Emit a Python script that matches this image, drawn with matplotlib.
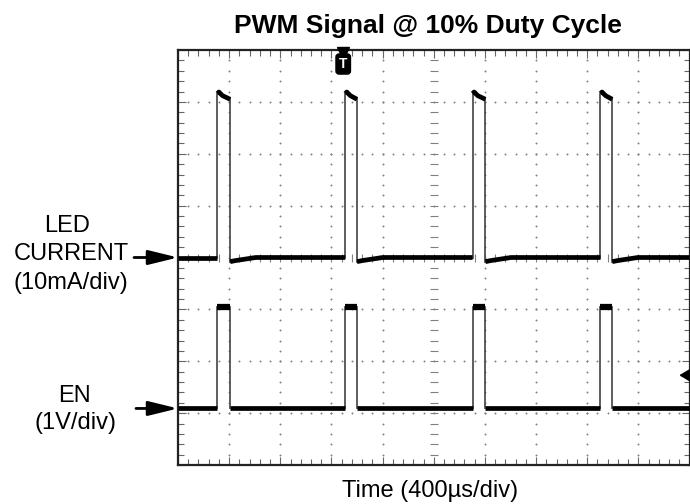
import numpy as np
import matplotlib
matplotlib.use("Agg")
import matplotlib.pyplot as plt

plt.rcParams['font.family'] = ['Liberation Sans', 'DejaVu Sans']

# scope screen: 10 x 8 divisions, values read in divisions
rise = [0.77, 3.27, 5.76, 8.26]
fall = [1.02, 3.50, 6.01, 8.49]

led_low = 4.0
led_top_dt = [0.0, 0.03, 0.10, 0.23]
led_top_val = [7.16, 7.19, 7.12, 7.05]
led_tail_dt = [0.0, 0.10, 0.50]
led_tail_val = [3.92, 3.94, 4.0]

en_low = 1.09
en_high = 3.04

trig_x = 3.23
trig_level = 1.73

W, H = 690, 504
fig = plt.figure(figsize=(W / 100, H / 100), dpi=100)
ax = fig.add_axes([178 / W, 39 / H, 511.5 / W, 415 / H])
ax.set_xlim(0, 10)
ax.set_ylim(0, 8)

# graticule dots
pts = np.arange(0, 10.01, 0.2)
for gy in [1, 2, 3, 5, 6, 7]:
    ax.plot(pts, np.full(len(pts), gy), ls='none', marker='o', ms=1.4, color='#808080', mew=0)
vpts = np.arange(0, 8.01, 0.2)
for gx in [1, 2, 3, 4, 6, 7, 8, 9]:
    ax.plot(np.full(len(vpts), gx), vpts, ls='none', marker='o', ms=1.4, color='#808080', mew=0)
# center cross with small ticks
ax.plot(np.full(len(vpts), 5), vpts, ls='none', marker='_', ms=6, mew=0.8, color='#808080')
ax.plot(pts, np.full(len(pts), 4), ls='none', marker='|', ms=6, mew=0.8, color='#808080')

ax.set_xticks(np.arange(0, 11, 1))
ax.set_xticks(np.arange(0, 10.01, 0.2), minor=True)
ax.set_yticks(np.arange(0, 9, 1))
ax.set_yticks(np.arange(0, 8.01, 0.2), minor=True)
ax.tick_params(which='both', direction='in', top=True, right=True,
               labelbottom=False, labelleft=False, color='#666666', width=0.8)
ax.tick_params(which='major', length=6)
ax.tick_params(which='minor', length=4)
for s in ax.spines.values():
    s.set_linewidth(1.6)
    s.set_color('#222222')

# LED current trace
edge_kw = dict(color='#505050', lw=1.3, zorder=3)
flat_kw = dict(color='black', lw=3.4, zorder=4, solid_capstyle='butt')
start_x, start_y = [0.0], [led_low]
for r, f in zip(rise, fall):
    ax.plot(start_x + [r], start_y + [led_low], **flat_kw)
    top_x = [r + d for d in led_top_dt]
    top_x[-1] = f
    ax.plot(top_x, led_top_val, **flat_kw)
    ax.plot([r, r], [led_low, led_top_val[0]], **edge_kw)
    ax.plot([f, f], [led_top_val[-1], led_tail_val[0]], **edge_kw)
    start_x = [f + d for d in led_tail_dt]
    start_y = list(led_tail_val)
ax.plot(start_x + [10.0], start_y + [led_low], **flat_kw)

# EN trace
prev = 0.0
for r, f in zip(rise, fall):
    ax.plot([prev, r], [en_low, en_low], **flat_kw)
    ax.plot([r, f], [en_high, en_high], color='black', lw=4.5, zorder=4, solid_capstyle='butt')
    ax.plot([r, r], [en_low, en_high], **edge_kw)
    ax.plot([f, f], [en_high, en_low], **edge_kw)
    prev = f
ax.plot([prev, 10], [en_low, en_low], **flat_kw)

# trigger markers
ax.plot(trig_x, 7.95, marker='v', ms=8, color='black', clip_on=False, zorder=6)
ax.text(trig_x, 7.73, 'T', color='white', fontsize=10, fontweight='bold', ha='center', va='center',
        bbox=dict(boxstyle='round,pad=0.22', fc='black', ec='black'), zorder=6)
ax.annotate('', xy=(9.8, trig_level), xytext=(10.0, trig_level),
            arrowprops=dict(arrowstyle='-|>,head_length=0.5,head_width=0.3', color='black',
                            lw=1.4, shrinkA=0, shrinkB=0, mutation_scale=12))

# channel labels with arrows
ax.annotate('', xy=(0, led_low), xytext=(-44, 0), textcoords='offset pixels',
            arrowprops=dict(arrowstyle='-|>,head_length=0.9,head_width=0.22', color='black',
                            lw=2, shrinkA=0, shrinkB=0, mutation_scale=20), annotation_clip=False)
ax.annotate('', xy=(0, en_low), xytext=(-42, 0), textcoords='offset pixels',
            arrowprops=dict(arrowstyle='-|>,head_length=0.9,head_width=0.22', color='black',
                            lw=2, shrinkA=0, shrinkB=0, mutation_scale=20), annotation_clip=False)

def ftext(x, y, s, **kw):
    fig.text(x / W, 1 - y / H, s, ha='center', va='baseline', **kw)

ftext(67, 232, 'LED', fontsize=17)
ftext(71, 260, 'CURRENT', fontsize=17)
ftext(71, 289, '(10mA/div)', fontsize=17)
ftext(74, 402, 'EN', fontsize=17)
ftext(75, 429, '(1V/div)', fontsize=17)

ftext(428, 33, 'PWM Signal @ 10% Duty Cycle', fontsize=19, fontweight='bold')
ftext(430, 497, 'Time (400µs/div)', fontsize=17)

fig.savefig('out.png', dpi=100)
